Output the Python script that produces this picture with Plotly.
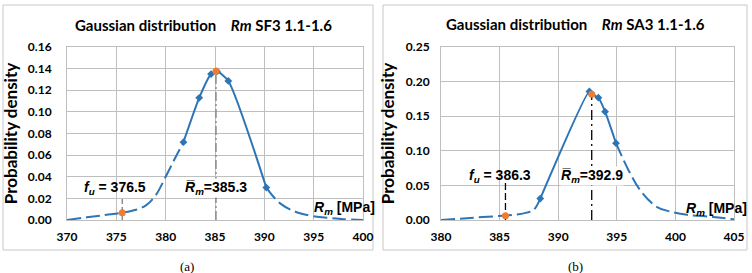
import plotly.graph_objects as go

W, H = 752, 273

# ---------------- data (a) SF3 ----------------
a_tail_left_x = [370, 372, 374, 375.6, 377, 378, 379, 380, 381, 381.8]
a_tail_left_y = [0.000, 0.0025, 0.0048, 0.0068, 0.0095, 0.0135, 0.023, 0.040, 0.058, 0.072]
a_data_x = [381.8, 383.4, 384.6, 385.2, 386.35, 390.2]
a_data_y = [0.072, 0.113, 0.135, 0.1375, 0.1286, 0.030]
a_tail_right_x = [390.2, 391.6, 393.6, 396.3, 398, 400]
a_tail_right_y = [0.030, 0.0154, 0.0062, 0.0021, 0.0008, 0.0]
a_fu_x, a_fu_y = 375.6, 0.0068
a_mean_x, a_mean_y = 385.1, 0.1375
a_xticks = [370, 375, 380, 385, 390, 395, 400]
a_yticks = [0.00, 0.02, 0.04, 0.06, 0.08, 0.10, 0.12, 0.14, 0.16]

# ---------------- data (b) SA3 ----------------
b_tail_left_x = [380, 382.5, 385.26, 386.5, 387.3, 387.9, 388.47]
b_tail_left_y = [0.000, 0.003, 0.0062, 0.008, 0.0106, 0.0145, 0.031]
b_data_x = [388.47, 392.66, 392.86, 393.43, 394.0, 394.93]
b_data_y = [0.031, 0.1858, 0.1816, 0.1768, 0.1565, 0.111]
b_tail_right_x = [394.93, 396.0, 397.0, 398.4, 399.5, 401, 403.2, 405]
b_tail_right_y = [0.111, 0.072, 0.043, 0.019, 0.0125, 0.0075, 0.0045, 0.001]
b_fu_x, b_fu_y = 385.5, 0.0062
b_mean_x, b_mean_y = 392.86, 0.1816
b_xticks = [380, 385, 390, 395, 400, 405]
b_yticks = [0.00, 0.05, 0.10, 0.15, 0.20, 0.25]

BLUE = "#2E75B6"
ORANGE = "#ED7D31"
GRID = "#bfbfbf"
FONT = "Lato"


def px(x):
    return x / W


def py(y):
    return 1 - y / H


fig = go.Figure()


def panel(ax, tlx, tly, dx, dy, trx, try_, fux, fuy, fu_top, mx, my,
          mean_col, mean_dash, fu_col, fu_dash):
    xa = "x" if ax == 1 else "x2"
    ya = "y" if ax == 1 else "y2"
    for xs, ys in ((tlx, tly), (trx, try_)):
        fig.add_trace(go.Scatter(x=xs, y=ys, xaxis=xa, yaxis=ya, mode="lines",
                                 line=dict(color=BLUE, width=2, dash="14px,5px", shape="spline"),
                                 showlegend=False, hoverinfo="skip"))
    fig.add_trace(go.Scatter(x=dx, y=dy, xaxis=xa, yaxis=ya, mode="lines+markers",
                             line=dict(color=BLUE, width=2, shape="spline", smoothing=0.6),
                             marker=dict(symbol="diamond", size=6, color=BLUE),
                             showlegend=False, hoverinfo="skip"))
    fig.add_trace(go.Scatter(x=[mx, mx], y=[0, my], xaxis=xa, yaxis=ya, mode="lines",
                             line=dict(color=mean_col, width=1.3, dash=mean_dash),
                             showlegend=False, hoverinfo="skip"))
    fig.add_trace(go.Scatter(x=[fux, fux], y=[0, fu_top], xaxis=xa, yaxis=ya, mode="lines",
                             line=dict(color=fu_col, width=1.3, dash=fu_dash),
                             showlegend=False, hoverinfo="skip"))
    fig.add_trace(go.Scatter(x=[fux, mx], y=[fuy, my], xaxis=xa, yaxis=ya, mode="markers",
                             marker=dict(symbol="circle", size=7, color=ORANGE),
                             showlegend=False, hoverinfo="skip"))


panel(1, a_tail_left_x, a_tail_left_y, a_data_x, a_data_y, a_tail_right_x, a_tail_right_y,
      a_fu_x, a_fu_y, 0.021, a_mean_x, a_mean_y, "#7f7f7f", "9px,3px,2px,3px", "#7f7f7f", "5px,3px")
panel(2, b_tail_left_x, b_tail_left_y, b_data_x, b_data_y, b_tail_right_x, b_tail_right_y,
      b_fu_x, b_fu_y, 0.058, b_mean_x, b_mean_y, "#000000", "10px,4px,2px,4px", "#000000", "7px,3px")

tickfont = dict(family=FONT, size=12, color="#000000")
common_x = dict(showgrid=True, gridcolor=GRID, gridwidth=1, showline=True, linecolor=GRID,
                mirror=True, ticks="", tickfont=tickfont, zeroline=False, automargin=False,
                fixedrange=True, ticklabelstandoff=6)
common_y = dict(showgrid=True, gridcolor=GRID, gridwidth=1, showline=True, linecolor=GRID,
                mirror=True, ticks="", tickfont=tickfont, zeroline=False, automargin=False,
                fixedrange=True,
                title=dict(text="<b>Probability density</b>", font=dict(family=FONT, size=17, color="#000")))


def bold_x(vals):
    return [f"<b>{v:g}</b>" for v in vals]


def bold_y(vals):
    return [f"<b>{v:.2f}</b>" for v in vals]


yd = [py(220), py(47)]
fig.update_layout(
    width=W, height=H, margin=dict(l=0, r=0, t=0, b=0),
    paper_bgcolor="white", plot_bgcolor="white",
    xaxis=dict(domain=[px(67), px(363)], range=[370, 400], tickvals=a_xticks, ticktext=bold_x(a_xticks),
               anchor="y", **common_x),
    yaxis=dict(domain=yd, range=[0, 0.16], tickvals=a_yticks, ticktext=bold_y(a_yticks), anchor="x",
               ticklabelstandoff=12, **common_y),
    xaxis2=dict(domain=[px(441), px(734)], range=[380, 405], tickvals=b_xticks, ticktext=bold_x(b_xticks),
                anchor="y2", **common_x),
    yaxis2=dict(domain=yd, range=[0, 0.25], tickvals=b_yticks, ticktext=bold_y(b_yticks), anchor="x2",
                ticklabelstandoff=8, **common_y),
)
fig.layout.yaxis.title.standoff = 8
fig.layout.yaxis2.title.standoff = 6

# panel boxes
for x0, x1 in ((3, 373), (383, 747)):
    fig.add_shape(type="rect", xref="paper", yref="paper", x0=px(x0), x1=px(x1),
                  y0=py(250), y1=py(5), line=dict(color="#c8c8c8", width=1), layer="below")

ann_font = dict(family="Liberation Sans", size=14, color="#000")
title_font = dict(family=FONT, size=15, color="#000")
anns = [
    # titles
    (203, 25, "<b>Gaussian distribution    <i>Rm</i> SF3 1.1-1.6</b>", title_font, None),
    (575, 24, "<b>Gaussian distribution    <i>Rm</i> SA3 1.1-1.6</b>", title_font, None),
    # f_u labels
    (115, 188, "<b><i>f<sub>u</sub></i> = 376.5</b>", ann_font, None),
    (500, 176, "<b><i>f<sub>u</sub></i> = 386.3</b>", ann_font, None),
    # mean labels
    (216, 188, "<b><i>R\u0305<sub>m</sub></i>=385.3</b>", ann_font, "white"),
    (592, 176, "<b><i>R\u0305<sub>m</sub></i>=392.9</b>", ann_font, "white"),
    # axis labels
    (344, 208, "<b><i>R<sub>m</sub></i> [MPa]</b>", ann_font, None),
    (716, 209, "<b><i>R<sub>m</sub></i> [MPa]</b>", ann_font, None),
    # panel letters
    (187, 266, "(a)", dict(family="Liberation Serif", size=13, color="#000"), None),
    (575, 266, "(b)", dict(family="Liberation Serif", size=13, color="#000"), None),
]
for x, y, t, f, bg in anns:
    fig.add_annotation(x=px(x), y=py(y), xref="paper", yref="paper", text=t, showarrow=False,
                       font=f, xanchor="center", yanchor="middle",
                       bgcolor=bg if bg else "rgba(0,0,0,0)", borderpad=0)

fig.write_html("out.html")
